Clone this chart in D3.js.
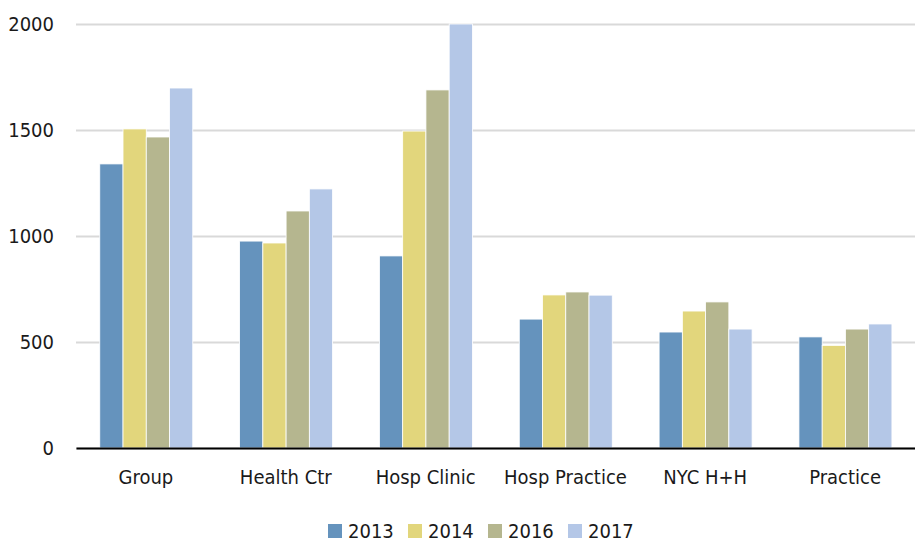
<!DOCTYPE html>
<html>
<head>
<meta charset="utf-8">
<script src="https://cdn.jsdelivr.net/npm/d3@7"></script>
<style>
  body { margin: 0; background: #fff; }
  svg text { font-family: "Liberation Sans Narrow", "DejaVu Sans Condensed", "Roboto", sans-serif; fill: #1a1a1a; }
</style>
</head>
<body>
<svg id="chart" width="915" height="542"></svg>
<script>
    let categories = ['Group', 'Health Ctr', 'Hosp Clinic', 'Hosp Practice', 'NYC H+H', 'Practice'];
    let years = ['2013', '2014', '2016', '2017'];
    let values2013 = [1340, 976, 906, 608, 547, 524];
    let values2014 = [1505, 967, 1495, 722, 646, 484];
    let values2016 = [1467, 1118, 1689, 736, 689, 561];
    let values2017 = [1698, 1222, 2000, 721, 561, 585];
    let yTicks = [0, 500, 1000, 1500, 2000];
    let colors = ['#6593bd', '#e2d67c', '#b5b68f', '#b4c7e7'];

(function() {
    let series = [values2013, values2014, values2016, values2017];

    let svg = d3.select('#chart');
    let plotLeft = 76, plotRight = 915, plotTop = 24, plotBottom = 448;
    let fontSize = '20px';

    let x0 = d3.scaleBand().domain(categories).range([plotLeft, plotRight]);
    let bw = x0.bandwidth();
    let x1 = d3.scaleBand().domain(years).range([bw * 0.17, bw * 0.835]);
    let y = d3.scaleLinear().domain([0, 2000]).range([plotBottom, plotTop]);
    let color = d3.scaleOrdinal().domain(years).range(colors);

    //gridlines + tick labels
    let yAxis = svg.append('g')
        .attr('transform', `translate(${plotLeft},0)`)
        .call(d3.axisLeft(y).tickValues(yTicks).tickFormat(d3.format('d'))
            .tickSize(-(plotRight - plotLeft)).tickPadding(22));
    yAxis.select('.domain').remove();
    yAxis.selectAll('.tick line').attr('stroke', '#d9d9d9').attr('stroke-width', 2);
    yAxis.selectAll('.tick text').style('font-size', fontSize).attr('fill', '#1a1a1a');

    let groups = svg.append('g').selectAll('g')
        .data(categories)
        .join('g')
        .attr('transform', d => `translate(${x0(d)},0)`);

    groups.selectAll('rect')
        .data((d, i) => years.map((yr, j) => ({ year: yr, value: series[j][i] })))
        .join('rect')
        .attr('x', d => x1(d.year))
        .attr('y', d => y(d.value))
        .attr('width', x1.bandwidth())
        .attr('height', d => y(0) - y(d.value))
        .attr('fill', d => color(d.year))
        .attr('stroke', '#fff')
        .attr('stroke-width', 0.8);

    //baseline + category labels
    let xAxis = svg.append('g')
        .attr('transform', `translate(0,${plotBottom})`)
        .call(d3.axisBottom(x0).tickSize(0).tickPadding(22));
    xAxis.select('.domain').attr('stroke', '#000').attr('stroke-width', 2);
    xAxis.selectAll('.tick text').style('font-size', fontSize).attr('fill', '#1a1a1a');

    //legend
    let legend = svg.append('g').attr('transform', 'translate(328,531)');
    let legendStep = 80;
    let items = legend.selectAll('g')
        .data(years)
        .join('g')
        .attr('transform', (d, i) => `translate(${i * legendStep},0)`);
    items.append('rect')
        .attr('x', 0).attr('y', -7)
        .attr('width', 14).attr('height', 14)
        .attr('fill', d => color(d));
    items.append('text')
        .attr('x', 20).attr('y', 0)
        .attr('dy', '0.35em')
        .style('font-size', fontSize)
        .text(d => d);
})();
</script>
</body>
</html>
